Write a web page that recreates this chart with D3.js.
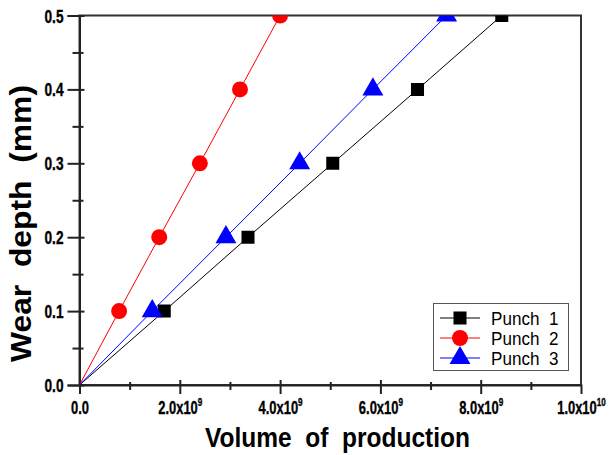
<!DOCTYPE html>
<html><head><meta charset="utf-8">
<script src="https://cdn.jsdelivr.net/npm/d3@7"></script>
<style>
body{margin:0;background:#fff;}
text{font-family:'Liberation Sans',Arial,sans-serif;}
</style></head>
<body><svg id="c" width="612" height="455"></svg>
<script>
const levels = [0, 0.1, 0.2, 0.3, 0.4, 0.5];
const punch1 = [0, 1.69e9, 3.36e9, 5.05e9, 6.74e9, 8.42e9];
const punch2 = [0, 0.79e9, 1.59e9, 2.40e9, 3.20e9, 4.00e9];
const punch3 = [0, 1.45e9, 2.92e9, 4.39e9, 5.85e9, 7.32e9];
const seriesNames = ["Punch  1", "Punch  2", "Punch  3"];
const xMajor = [0, 2e9, 4e9, 6e9, 8e9, 1e10];
const xMajorMant = ["0.0", "2.0x10", "4.0x10", "6.0x10", "8.0x10", "1.0x10"];
const xMajorExp = ["", "9", "9", "9", "9", "10"];
const xMinor = [1e9, 3e9, 5e9, 7e9, 9e9];
const yMajor = [0, 0.1, 0.2, 0.3, 0.4, 0.5];
const yMinor = [0.05, 0.15, 0.25, 0.35, 0.45];

const svg = d3.select("#c");
const L = 79.5, R = 581, T = 15.5, B = 385;
const x = d3.scaleLinear().domain([0, 1e10]).range([L, R]);
const y = d3.scaleLinear().domain([0, 0.5]).range([B, T]);

svg.append("defs").append("clipPath").attr("id","clip")
  .append("rect").attr("x",L).attr("y",T).attr("width",R-L).attr("height",B-T);

// frame
svg.append("rect").attr("x",L).attr("y",T).attr("width",R-L).attr("height",B-T)
  .attr("fill","none").attr("stroke","#333").attr("stroke-width",2);

// x axis
const xg = svg.append("g").attr("transform",`translate(0,${B})`)
  .call(d3.axisBottom(x).tickValues(xMajor).tickSize(9).tickFormat(""));
xg.attr("font-size",null).attr("font-family",null);
xg.select(".domain").attr("stroke","#222").attr("stroke-width",2);
xg.selectAll(".tick line").attr("y1",-5).attr("stroke","#222").attr("stroke-width",2);
xg.selectAll(".tick").filter(d=>d===1e10).select("line").remove();
const xm = svg.append("g").attr("transform",`translate(0,${B})`)
  .call(d3.axisBottom(x).tickValues(xMinor).tickSize(5).tickFormat(""));
xm.select(".domain").remove();
xm.selectAll(".tick line").attr("y1",-3).attr("stroke","#222").attr("stroke-width",2);
xg.selectAll(".tick").each(function(d,i){
  const t = d3.select(this).append("text").attr("transform","translate(0,29) scale(0.74,1)")
    .attr("fill","#000").attr("stroke","#000").attr("stroke-width",0.35).attr("text-anchor","middle")
    .style("font-size","17.5px").style("font-weight","bold");
  t.append("tspan").text(xMajorMant[i]);
  if (xMajorExp[i]) t.append("tspan").attr("dy",-8).style("font-size","11px").text(xMajorExp[i]);
});

// y axis
const yg = svg.append("g").attr("transform",`translate(${L},0)`)
  .call(d3.axisLeft(y).tickValues(yMajor).tickSize(12).tickFormat(d3.format(".1f")));
yg.attr("font-size",null).attr("font-family",null);
yg.select(".domain").attr("stroke","#222").attr("stroke-width",2);
yg.selectAll(".tick line").attr("x1",5).attr("stroke","#222").attr("stroke-width",2);
yg.selectAll(".tick text").attr("x",0).attr("dy",null).attr("transform","translate(-16,6.5) scale(0.76,1)")
  .attr("fill","#000").attr("stroke","#000").attr("stroke-width",0.35)
  .style("font-size","18px").style("font-weight","bold");

const ym = svg.append("g").attr("transform",`translate(${L},0)`)
  .call(d3.axisLeft(y).tickValues(yMinor).tickSize(7).tickFormat(""));
ym.select(".domain").remove();
ym.selectAll(".tick line").attr("x1",4).attr("stroke","#222").attr("stroke-width",2);

// axis titles
svg.append("text").attr("x",337.5).attr("y",447).attr("text-anchor","middle")
  .attr("textLength",265).attr("lengthAdjust","spacingAndGlyphs")
  .style("font-size","28.5px").style("font-weight","bold").attr("fill","#000")
  .attr("xml:space","preserve").text("Volume  of  production");
svg.append("text").attr("transform","translate(31,223.5) rotate(-90)").attr("text-anchor","middle")
  .attr("textLength",277).attr("lengthAdjust","spacingAndGlyphs")
  .style("font-size","29px").style("font-weight","bold").attr("fill","#000")
  .attr("xml:space","preserve").text("Wear  depth  (mm)");

// series
const series = [
  {name: seriesNames[0], vals: punch1, color: "#000000", shape: "square"},
  {name: seriesNames[1], vals: punch2, color: "#ff0000", shape: "circle"},
  {name: seriesNames[2], vals: punch3, color: "#0000ff", shape: "triangle"}
];
const sym = {
  square: d3.symbol().type(d3.symbolSquare).size(170),
  circle: d3.symbol().type(d3.symbolCircle).size(200),
  triangle: d3.symbol().type(d3.symbolTriangle).size(190)
};
const plot = svg.append("g").attr("clip-path","url(#clip)");
const line = d3.line().x(d=>x(d[0])).y(d=>y(d[1]));
series.forEach(s=>{
  const pts = s.vals.map((v,i)=>[v, levels[i]]);
  plot.append("path").datum(pts).attr("d",line).attr("fill","none")
    .attr("stroke",s.color).attr("stroke-width",1);
  plot.selectAll(null).data(pts.slice(1)).enter().append("path")
    .attr("d",sym[s.shape]()).attr("fill",s.color)
    .attr("transform",d=>`translate(${x(d[0])},${y(d[1])})`);
});

// legend
const lg = svg.append("g");
lg.append("rect").attr("x",433.5).attr("y",303.5).attr("width",135).attr("height",67)
  .attr("fill","#fff").attr("stroke","#555").attr("stroke-width",1);
series.forEach((s,i)=>{
  const yy = 318 + i*20;
  lg.append("line").attr("x1",440).attr("x2",480).attr("y1",yy).attr("y2",yy)
    .attr("stroke",s.color).attr("stroke-width",1);
  lg.append("path").attr("d",sym[s.shape]()).attr("fill",s.color)
    .attr("transform",`translate(460,${yy})`);
  lg.append("text").attr("transform",`translate(491,${yy+6.5}) scale(0.95,1)`).attr("xml:space","preserve")
    .style("font-size","18px").attr("fill","#000").text(s.name);
});
</script></body></html>
